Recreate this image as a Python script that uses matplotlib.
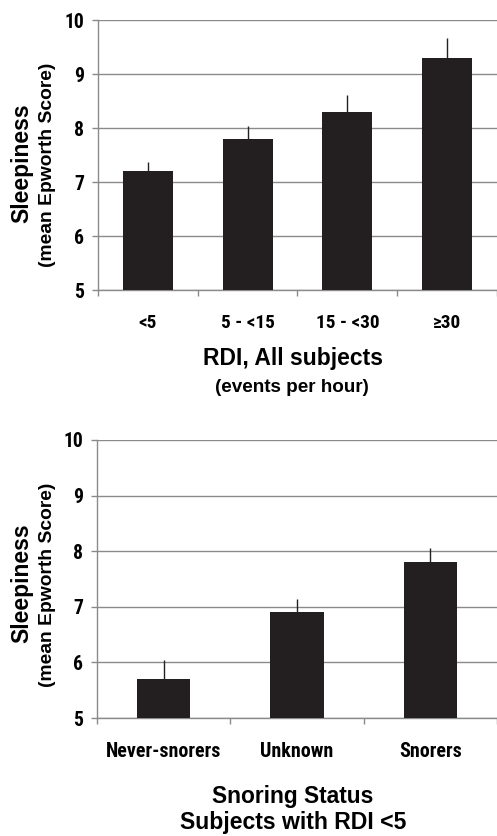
import matplotlib
matplotlib.use("Agg")
import matplotlib.pyplot as plt
from matplotlib import font_manager

rdi_cats = ["<5", "5 - <15", "15 - <30", "\u226530"]
rdi_means = [7.2, 7.8, 8.3, 9.3]
rdi_err = [0.17, 0.24, 0.31, 0.37]

snore_cats = ["Never-snorers", "Unknown", "Snorers"]
snore_means = [5.7, 6.9, 7.8]
snore_err = [0.34, 0.24, 0.26]

yticks = [5, 6, 7, 8, 9, 10]


def _w(v):
    if isinstance(v, str):
        return font_manager.weight_dict.get(v, 400)
    return int(v)


_bold = {f.name for f in font_manager.fontManager.ttflist if _w(f.weight) >= 700}
_narrow = [n for n in ("Liberation Sans Narrow", "Arial Narrow", "Archivo Narrow",
                       "Roboto Condensed", "PT Sans Narrow", "Pragati Narrow",
                       "Asap Condensed", "Sofia Sans Condensed", "IBM Plex Sans Condensed")
           if n in _bold]
FONT = ["Liberation Sans", "DejaVu Sans"]
NARROW = _narrow[:1] + FONT
BAR = "#231f20"
GRID = "#8a8a8a"
W, H = 497, 836

fig = plt.figure(figsize=(W / 100, H / 100), dpi=100)
renderer = fig.canvas.get_renderer()


def size_for(text, width_px, rotation=0, family=FONT):
    t = fig.text(0, 0, text, fontfamily=family, fontweight="bold", fontsize=10,
                 rotation=rotation)
    bb = t.get_window_extent(renderer)
    w = bb.height if rotation else bb.width
    t.remove()
    return 10 * width_px / w


def put(text, xc, yc, width_px, rotation=0):
    fs = size_for(text, width_px, rotation)
    fig.text(xc / W, 1 - yc / H, text, rotation=rotation, ha="center",
             va="center", fontfamily=FONT, fontweight="bold", fontsize=fs)


def panel(rect, cats, means, errs, width, tick_fs, pad):
    ax = fig.add_axes(rect)
    x = list(range(len(cats)))
    ax.bar(x, means, width=width, color=BAR, zorder=3)
    ax.errorbar(x, means, yerr=[[0] * len(errs), errs], fmt="none",
                ecolor="#222222", elinewidth=1.0, capsize=0, zorder=2)
    ax.set_ylim(5, 10)
    ax.set_xlim(-0.5, len(cats) - 0.5)
    ax.set_yticks(yticks)
    ax.set_yticklabels([str(v) for v in yticks], fontfamily=NARROW,
                       fontweight="bold",
                       fontsize=size_for("10", 20, family=NARROW))
    ax.set_xticks([i - 0.5 for i in range(len(cats) + 1)])
    ax.set_xticklabels([])
    ax.set_xticks(x, minor=True)
    ax.set_xticklabels(cats, minor=True, fontfamily=NARROW,
                       fontweight="bold", fontsize=tick_fs)
    ax.tick_params(axis="x", which="minor", length=0, pad=pad)
    ax.tick_params(axis="x", which="major", length=4, color=GRID, width=1)
    ax.tick_params(axis="y", length=4, color=GRID, width=1, pad=6)
    ax.yaxis.grid(True, color=GRID, lw=1.0, zorder=0)
    ax.set_axisbelow(True)
    for s in ("top", "right"):
        ax.spines[s].set_visible(False)
    for s in ("left", "bottom"):
        ax.spines[s].set_color(GRID)
        ax.spines[s].set_linewidth(1.0)
    return ax


ax1 = panel([0.197, 0.6531, 0.803, 0.3229], rdi_cats, rdi_means, rdi_err,
            0.5, size_for("5 - <15", 54, family=NARROW), 17)
ax2 = panel([0.195, 0.1411, 0.805, 0.3326], snore_cats, snore_means, snore_err,
            0.4, size_for("Never-snorers", 115, family=NARROW), 17)

for yc in (163, 583):
    put("Sleepiness", 22, yc, 120, rotation=90)
for yc in (165, 585):
    put("(mean Epworth Score)", 48, yc, 204, rotation=90)

put("RDI, All subjects", 293, 359, 180)
put("(events per hour)", 292, 387, 155)
put("Snoring Status", 293, 797, 162)
put("Subjects with RDI <5", 293, 823, 227)

fig.savefig("out.png", dpi=100)
